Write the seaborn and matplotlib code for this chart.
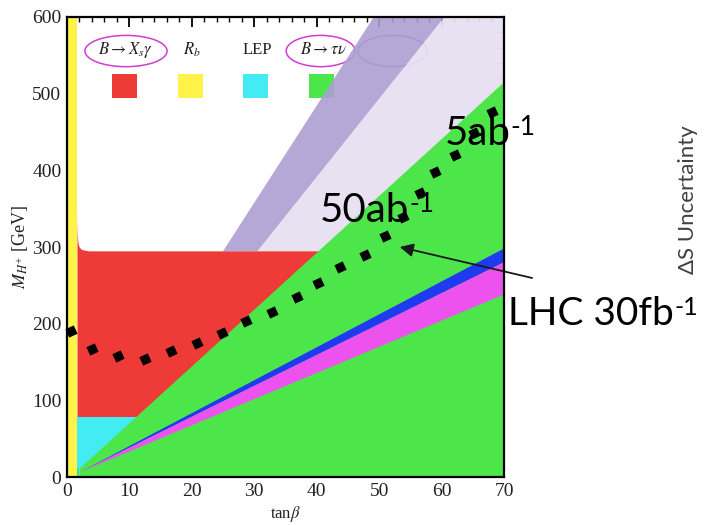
import matplotlib
matplotlib.use("Agg")
import matplotlib.pyplot as plt
from matplotlib.patches import Ellipse, Rectangle
from matplotlib.markers import MarkerStyle
from matplotlib.transforms import Affine2D
from matplotlib.ticker import MultipleLocator
import pandas as pd
import seaborn as sns

# ---------------- excluded regions in the (tan beta, M_H+) plane ----------------
rb_tanb_max = 1.6                                   # R_b: low tan beta strip

bsg_tanb = [1.6, 1.62, 1.66, 1.75, 1.9, 2.05, 2.3, 2.7, 3.5, 70.0]
bsg_mh = [345, 330, 315, 306, 301, 299, 297, 296, 295, 295]   # B -> X_s gamma

lep_mh = 78                                         # LEP direct search

btn_tanb = [2.0, 70.0]
btn_mh = [12, 516]                                  # B -> tau nu upper edge

lhc_tanb = [2.0, 70.0]
lhc_blue_hi = [7, 299]
lhc_blue_lo = [7, 281]
lhc_mag_lo = [7, 239]

band_mh = [295, 600]
band_dark_left = [24.9, 49.0]
band_dark_right = [30.4, 60.3]

# ---------------- projected reach (dotted curve) ----------------
reach_tanb = [0.6, 4.0, 8.1, 12.5, 16.7, 20.9, 24.9, 28.6, 32.9, 36.8,
              40.2, 43.7, 47.7, 51.0, 53.8, 56.6, 59.0, 62.2, 65.2, 68.1]
reach_mh = [191, 167, 158, 154, 165, 175, 188, 203, 215, 235,
            253, 274, 290, 314, 339, 370, 398, 420, 449, 476]

# ---------------- legend ----------------
legend_labels = [r"$B\rightarrow X_s\gamma$", r"$R_b$", "LEP", r"$B\rightarrow\tau\nu$"]
legend_colors = ["#ef3b37", "#fff34a", "#43ebf3", "#4de64a"]
legend_circled = [True, False, False, True, True]

x_ticks = [0, 10, 20, 30, 40, 50, 60, 70]
y_ticks = [0, 100, 200, 300, 400, 500, 600]

RED, YELLOW, CYAN, GREEN = legend_colors
BLUE = "#1f3af0"
MAGENTA = "#ee52ee"
LAV_DARK = "#ad9ed2"
LAV_LIGHT = "#e7e0f1"

sns.set_theme(style="ticks")
plt.rcParams["font.family"] = ["Liberation Serif", "DejaVu Serif"]
plt.rcParams["mathtext.fontset"] = "stix"

fig = plt.figure(figsize=(7.05, 5.25), dpi=100)
ax = fig.add_axes([67 / 705, 1 - 477 / 525, (504 - 67) / 705, (477 - 17) / 525])
ax.set_xlim(0, 70)
ax.set_ylim(0, 600)

# legend entries (behind the lavender bands)
for i, circ in enumerate(legend_circled):
    cx = 0.131 + 0.1505 * i
    if circ:
        w = 0.188 if i == 0 else 0.158
        lx = cx + (0.004 if i == 0 else -0.002)
        if i == 4:
            lx = cx + 0.012
        ax.add_patch(Ellipse((lx, 0.926), w, 0.068, transform=ax.transAxes,
                             fill=False, ec="#d23cd2", lw=1.1, zorder=1))
for i, (lab, col) in enumerate(zip(legend_labels, legend_colors)):
    cx = 0.131 + 0.1505 * i
    ax.text(cx + 0.004, 0.928, lab, transform=ax.transAxes, ha="center", va="center",
            fontsize=12, color="#222222", zorder=1)
    ax.add_patch(Rectangle((cx - 0.0286, 0.824), 0.0572, 0.052, transform=ax.transAxes,
                           fc=col, ec="none", zorder=1))

# lavender bands
ax.fill_betweenx(band_mh, band_dark_right, 70, color=LAV_LIGHT, alpha=0.95, lw=0, zorder=2)
ax.fill_betweenx(band_mh, band_dark_left, band_dark_right, color=LAV_DARK,
                 alpha=0.9, lw=0, zorder=2)

# B -> X_s gamma, LEP, B -> tau nu
ax.fill_between(bsg_tanb, 0, bsg_mh, color=RED, lw=0, zorder=3)
ax.fill_between([rb_tanb_max, 70], 0, lep_mh, color=CYAN, lw=0, zorder=3)
ax.fill_between(btn_tanb, 0, btn_mh, color=GREEN, lw=0, zorder=3)
ax.fill_between([0, 2.0], 0, 12, color=GREEN, lw=0, zorder=3)

# LHC bands
ax.fill_between(lhc_tanb, lhc_blue_lo, lhc_blue_hi, color=BLUE, lw=0, zorder=4)
ax.fill_between(lhc_tanb, lhc_mag_lo, lhc_blue_lo, color=MAGENTA, lw=0, zorder=4)

# R_b strip
ax.fill_between([0, rb_tanb_max], 0, 600, color=YELLOW, lw=0, zorder=4)

# projected reach
reach = pd.DataFrame({"tanb": reach_tanb, "mh": reach_mh})
sq = MarkerStyle("s", transform=Affine2D().rotate_deg(25))
sns.scatterplot(data=reach, x="tanb", y="mh", ax=ax, marker=sq, s=44,
                color="black", linewidth=0, zorder=7, clip_on=False)

# axes styling
ax.set_xticks(x_ticks)
ax.set_yticks(y_ticks)
ax.xaxis.set_minor_locator(MultipleLocator(2))
ax.yaxis.set_minor_locator(MultipleLocator(20))
ax.tick_params(which="both", direction="in", top=True, right=True, color="black")
ax.tick_params(which="major", length=7, width=1.3, labelsize=14, labelcolor="#222222", pad=4)
ax.tick_params(which="minor", length=3.5, width=1.0)
for sp in ax.spines.values():
    sp.set_linewidth(1.6)
    sp.set_color("black")
    sp.set_zorder(8)

ax.set_xlabel(r"tan$\beta$", fontsize=12, color="#222222")
ax.xaxis.set_label_coords(0.5, -0.058)
ax.set_ylabel(r"$M_{H^{+}}$ [GeV]", fontsize=13, color="#222222")
ax.yaxis.set_label_coords(-0.085, 0.5)

# luminosity labels
SANS = ["Lato", "DejaVu Sans"]


def lumi_label(x, y, main, sup, size=29, sup_size=19):
    t = ax.text(x, y, main, fontsize=size, family=SANS, ha="left", va="baseline",
                color="black", zorder=6, clip_on=False)
    ax.annotate(sup, xy=(1.0, 1.0), xycoords=t, fontsize=sup_size, family=SANS,
                ha="left", va="top", color="black", zorder=6, annotation_clip=False)


lumi_label(60.5, 433, "5ab", "-1")
lumi_label(40.5, 333, "50ab", "-1")
lumi_label(70.7, 198, "LHC 30fb", "-1", size=28, sup_size=18)

ax.annotate("", xy=(53.3, 300), xytext=(74.5, 259.6),
            arrowprops=dict(arrowstyle="-|>", color="#1a1a1a", lw=1.3,
                            mutation_scale=20, shrinkA=0, shrinkB=0),
            annotation_clip=False, zorder=6)

fig.text(688 / 705, 1 - 200 / 525, "ΔS Uncertainty", rotation=90, ha="center",
         va="center", fontsize=16, family=SANS, color="#404040")

fig.savefig("out.png", dpi=100, facecolor="white")
